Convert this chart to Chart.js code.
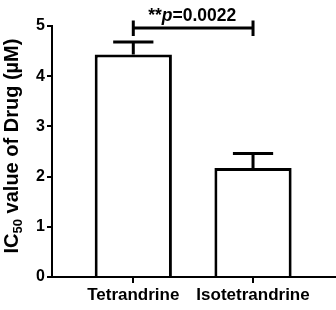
<!DOCTYPE html>
<html>
<head>
<meta charset="utf-8">
<script src="https://cdn.jsdelivr.net/npm/chart.js@4.4.0/dist/chart.umd.min.js"></script>
<style>
  html, body { margin: 0; padding: 0; background: #fff; }
  #wrap { width: 336px; height: 310px; position: relative; }
</style>
</head>
<body>
<div id="wrap"><canvas id="chart"></canvas></div>
<script>
const categories = ['Tetrandrine', 'Isotetrandrine'];
const ic50Values = [4.43, 2.17];
const ic50Errors = [0.25, 0.29];
const yTicks = [0, 1, 2, 3, 4, 5];
const pLabel = { stars: '**', p: 'p', rest: '=0.0022' };

const FONT = '"Liberation Sans", Arial, sans-serif';

// upward-only error bars
const errorBars = {
  id: 'errorBars',
  afterDatasetsDraw(chart) {
    const { ctx, scales: { x, y } } = chart;
    ctx.save();
    ctx.strokeStyle = '#000';
    ctx.lineWidth = 3;
    ic50Values.forEach((v, i) => {
      const cx = x.getPixelForValue(i);
      const top = y.getPixelForValue(v + ic50Errors[i]);
      const base = y.getPixelForValue(v);
      const half = (x.getPixelForValue(i + 0.168) - cx);
      ctx.beginPath();
      ctx.moveTo(cx, base);
      ctx.lineTo(cx, top);
      ctx.moveTo(cx - half, top);
      ctx.lineTo(cx + half, top);
      ctx.stroke();
    });
    ctx.restore();
  }
};

// significance bracket + p label
const sigBracket = {
  id: 'sigBracket',
  afterDraw(chart) {
    const { ctx, scales: { x, y } } = chart;
    const x1 = x.getPixelForValue(0), x2 = x.getPixelForValue(1);
    const by = y.getPixelForValue(4.96);
    ctx.save();
    ctx.strokeStyle = '#000';
    ctx.lineWidth = 3;
    ctx.beginPath();
    ctx.moveTo(x1, by); ctx.lineTo(x2, by);
    ctx.moveTo(x1, by - 7.5); ctx.lineTo(x1, by + 8);
    ctx.moveTo(x2, by - 7.5); ctx.lineTo(x2, by + 8);
    ctx.stroke();

    const fB = 'bold 17.5px ' + FONT, fI = 'italic bold 17.5px ' + FONT;
    ctx.font = fB; const w1 = ctx.measureText(pLabel.stars).width;
    const w3 = ctx.measureText(pLabel.rest).width;
    ctx.font = fI; const w2 = ctx.measureText(pLabel.p).width;
    let sx = (x1 + x2) / 2 - 1 - (w1 + w2 + w3) / 2;
    const baseY = by - 7.5;
    ctx.fillStyle = '#000';
    ctx.textBaseline = 'alphabetic';
    ctx.textAlign = 'left';
    ctx.font = fB; ctx.fillText(pLabel.stars, sx, baseY); sx += w1;
    ctx.font = fI; ctx.fillText(pLabel.p, sx, baseY); sx += w2;
    ctx.font = fB; ctx.fillText(pLabel.rest, sx, baseY);
    ctx.restore();
  }
};

// y axis title with subscript
const yTitle = {
  id: 'yTitle',
  afterDraw(chart) {
    const { ctx } = chart;
    const parts = [
      { t: 'IC', f: 'bold 20px ' + FONT, dy: 0 },
      { t: '50', f: 'bold 13px ' + FONT, dy: 4 },
      { t: ' value of Drug (\u00B5M)', f: 'bold 20px ' + FONT, dy: 0 }
    ];
    ctx.save();
    let total = 0;
    parts.forEach(p => { ctx.font = p.f; p.w = ctx.measureText(p.t).width; total += p.w; });
    ctx.translate(18, 146);
    ctx.rotate(-Math.PI / 2);
    ctx.fillStyle = '#000';
    ctx.textBaseline = 'alphabetic';
    let sx = -total / 2;
    parts.forEach(p => { ctx.font = p.f; ctx.fillText(p.t, sx, p.dy); sx += p.w; });
    ctx.restore();
  }
};

const ctx = document.getElementById('chart').getContext('2d');
new Chart(ctx, {
  type: 'bar',
  data: {
    datasets: [{
      data: categories.map((c, i) => ({ x: i, y: ic50Values[i] })),
      backgroundColor: '#fff',
      borderColor: '#000',
      borderWidth: 3,
      barPercentage: 0.645,
      categoryPercentage: 1
    }]
  },
  options: {
    responsive: true,
    maintainAspectRatio: false,
    animation: false,
    layout: { padding: { top: 26, right: 0, left: 0, bottom: 0 } },
    plugins: { legend: { display: false }, tooltip: { enabled: false } },
    scales: {
      x: {
        type: 'linear',
        offset: false,
        min: -0.679,
        max: 1.693,
        afterBuildTicks: (axis) => { axis.ticks = categories.map((c, i) => ({ value: i })); },
        afterFit: (axis) => { axis.height = 33; },
        ticks: {
          callback: (v) => categories[v],
          color: '#000',
          font: { family: FONT, size: 17, weight: 'bold' },
          padding: 2,
          maxRotation: 0,
          autoSkip: false
        },
        grid: { offset: false, drawOnChartArea: false, drawTicks: true, tickLength: 6, color: '#000', lineWidth: 2 },
        border: { display: true, color: '#000', width: 2 }
      },
      y: {
        min: 0,
        max: 5,
        afterBuildTicks: (axis) => { axis.ticks = yTicks.map(v => ({ value: v })); },
        afterFit: (axis) => { axis.width = 52; },
        ticks: {
          color: '#000',
          font: { family: FONT, size: 16, weight: 'bold' },
          padding: 2
        },
        grid: { drawOnChartArea: false, drawTicks: true, tickLength: 5, color: '#000', lineWidth: 2 },
        border: { display: true, color: '#000', width: 2 }
      }
    }
  },
  plugins: [errorBars, sigBracket, yTitle]
});
</script>
</body>
</html>
